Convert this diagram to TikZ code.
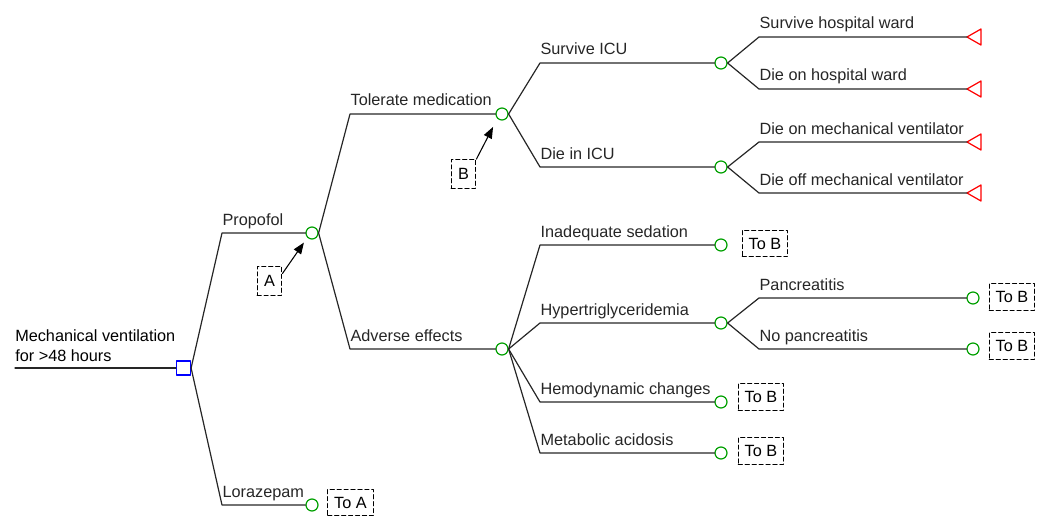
\documentclass[tikz,border=0pt]{standalone}
\usepackage{fontspec}
\setmainfont{Liberation Sans}
\usetikzlibrary{arrows.meta}

\definecolor{chgreen}{RGB}{0,160,0}

\begin{document}
\begin{tikzpicture}[line cap=round,line join=round,x=0.75pt,y=-0.75pt,
  >={Triangle[length=8.5pt,width=6.5pt]},
  every node/.style={font=\fontsize{12.2pt}{15pt}\selectfont},
  branch/.style={line width=0.9pt,black!85},
  chance/.style={circle,draw=chgreen,fill=white,line width=0.9pt,minimum size=9pt,inner sep=0pt},
  decision/.style={rectangle,draw=blue,fill=white,line width=0.9pt,minimum size=10.5pt,inner sep=0pt},
  term/.style={draw=red,line width=0.9pt},
  jump/.style={rectangle,draw,dash pattern=on 3pt off 2.2pt,line width=0.9pt,minimum width=34pt,minimum height=20pt,inner sep=1pt},
  jumpin/.style={jump,minimum width=18.5pt,minimum height=21.5pt},
  lbl/.style={pos=0,anchor=base west,inner sep=0pt,yshift=6pt}]
\useasboundingbox (0,0) rectangle (1050,528);
% decision and chance nodes
\coordinate (start) at (15,368);
\node[decision] (root) at (183.5,368) {};
\node[chance] (prop) at (312,233) {};
\node[chance] (lor) at (312,505) {};
\node[chance] (tol) at (502,114) {};
\node[chance] (adv) at (502,349) {};
\node[chance] (sicu) at (721,63) {};
\node[chance] (dicu) at (721,167) {};
\node[chance] (inad) at (721,245) {};
\node[chance] (hyper) at (721,323) {};
\node[chance] (hemo) at (721,402) {};
\node[chance] (meta) at (721,453) {};
\node[chance] (panc) at (973,298) {};
\node[chance] (nopanc) at (973,349) {};
% branch corners
\coordinate (prop-c) at (222,233);
\coordinate (lor-c) at (222,505);
\coordinate (tol-c) at (350,114);
\coordinate (adv-c) at (350,349);
\coordinate (sicu-c) at (540,63);
\coordinate (dicu-c) at (540,167);
\coordinate (inad-c) at (540,245);
\coordinate (hyper-c) at (540,323);
\coordinate (hemo-c) at (540,402);
\coordinate (meta-c) at (540,453);
\coordinate (shw-c) at (759,37);
\coordinate (dhw-c) at (759,89);
\coordinate (dmv-c) at (759,142);
\coordinate (dov-c) at (759,193);
\coordinate (panc-c) at (759,298);
\coordinate (nopanc-c) at (759,349);
% terminal nodes
\coordinate (shw) at (967,37);
\coordinate (dhw) at (967,89);
\coordinate (dmv) at (967,142);
\coordinate (dov) at (967,193);
\foreach \t in {shw,dhw,dmv,dov}
  \draw[term] (\t) -- ++(14,-8) -- ++(0,16) -- cycle;
% jump boxes
\node[jumpin] (A) at (269.5,281) {A};
\node[jumpin] (B) at (463.5,174) {B};
\node[jump] (toA) at (350.5,502.5) {To A};
\node[jump] (toB1) at (765,243.5) {To B};
\node[jump] (toB2) at (1012,297) {To B};
\node[jump] (toB3) at (1012,346) {To B};
\node[jump] (toB4) at (761,397) {To B};
\node[jump] (toB5) at (761,451) {To B};
% branches
\node[anchor=south west,align=left,inner sep=0pt] (rootlbl) at (15,362) {Mechanical ventilation\\for >48 hours};
\draw[branch] (start) -- (root.west);
\draw[branch] (root.east) -- (prop-c) -- node[lbl]{Propofol} (prop.west);
\draw[branch] (root.east) -- (lor-c) -- node[lbl]{Lorazepam} (lor.west);
\draw[branch] (prop.east) -- (tol-c) -- node[lbl]{Tolerate medication} (tol.west);
\draw[branch] (prop.east) -- (adv-c) -- node[lbl]{Adverse effects} (adv.west);
\draw[branch] (tol.east) -- (sicu-c) -- node[lbl]{Survive ICU} (sicu.west);
\draw[branch] (tol.east) -- (dicu-c) -- node[lbl]{Die in ICU} (dicu.west);
\draw[branch] (adv.east) -- (inad-c) -- node[lbl]{Inadequate sedation} (inad.west);
\draw[branch] (adv.east) -- (hyper-c) -- node[lbl]{Hypertriglyceridemia} (hyper.west);
\draw[branch] (adv.east) -- (hemo-c) -- node[lbl]{Hemodynamic changes} (hemo.west);
\draw[branch] (adv.east) -- (meta-c) -- node[lbl]{Metabolic acidosis} (meta.west);
\draw[branch] (sicu.east) -- (shw-c) -- node[lbl]{Survive hospital ward} (shw);
\draw[branch] (sicu.east) -- (dhw-c) -- node[lbl]{Die on hospital ward} (dhw);
\draw[branch] (dicu.east) -- (dmv-c) -- node[lbl]{Die on mechanical ventilator} (dmv);
\draw[branch] (dicu.east) -- (dov-c) -- node[lbl]{Die off mechanical ventilator} (dov);
\draw[branch] (hyper.east) -- (panc-c) -- node[lbl]{Pancreatitis} (panc.west);
\draw[branch] (hyper.east) -- (nopanc-c) -- node[lbl]{No pancreatitis} (nopanc.west);
% jump arrows
\draw[->,line width=0.8pt,shorten >=4.5pt] (A.30) -- (prop.south west);
\draw[->,line width=0.8pt,shorten >=7pt] (B.north east) -- (tol.south west);
\end{tikzpicture}
\end{document}
